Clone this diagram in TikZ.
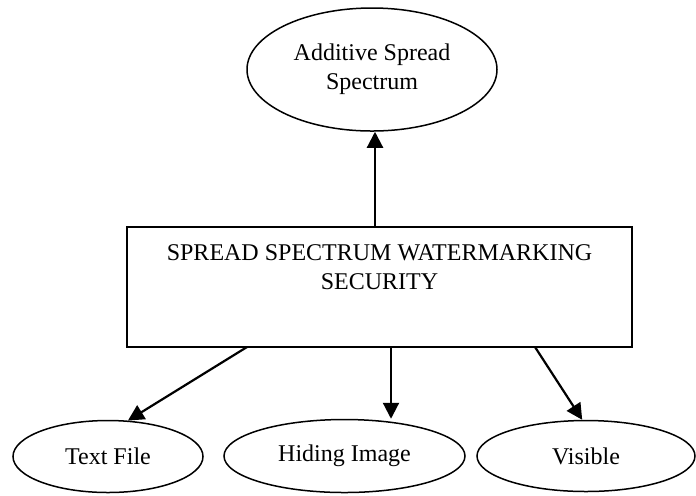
\documentclass[tikz,border=0pt]{standalone}
\usepackage{fontspec}
\setmainfont{Liberation Serif}
\usetikzlibrary{arrows.meta,shapes.geometric}
\begin{document}
\begin{tikzpicture}[x=0.5pt,y=-0.5pt,
  every node/.style={font=\fontsize{12}{14.5}\selectfont, inner sep=0pt, text=black},
  oval/.style={draw, ellipse, line width=0.75pt, align=center},
  frame/.style={draw, rectangle, line width=1pt, minimum width=252.5pt, minimum height=60pt},
  arr/.style={line width=1.1pt, -{Triangle[length=8pt,width=8pt]}}]
\useasboundingbox (0,0) rectangle (696,495);

% top goal
\node[oval, minimum width=125pt, minimum height=61.5pt] (add) at (372,69.5) {Additive Spread\\Spectrum};

% central box with its caption set near the top edge
\node[frame] (sec) at (379.5,287) {};
\node[anchor=north, align=center] (seclabel) at (379.5,244) {SPREAD SPECTRUM WATERMARKING\\SECURITY};

% bottom ovals
\node[oval, minimum width=95pt, minimum height=36pt] (txt) at (108,456.5) {Text File};
\node[oval, minimum width=120.5pt, minimum height=36.5pt] (hid) at (344.5,456) {Hiding Image};
\node[oval, minimum width=109pt, minimum height=35.5pt] (vis) at (586,456) {Visible};

% arrow start points on the box edges
\coordinate (s0) at (375,227);
\coordinate (s1) at (247,347);
\coordinate (s2) at (391,347);
\coordinate (s3) at (535,347);

\draw[arr] (s0) -- (s0 |- add.south);
\draw[arr] (s1) -- (txt.61.6);
\draw[arr] (s2) -- (s2 |- hid.north);
\draw[arr] (s3) -- (vis.96);
\end{tikzpicture}
\end{document}
